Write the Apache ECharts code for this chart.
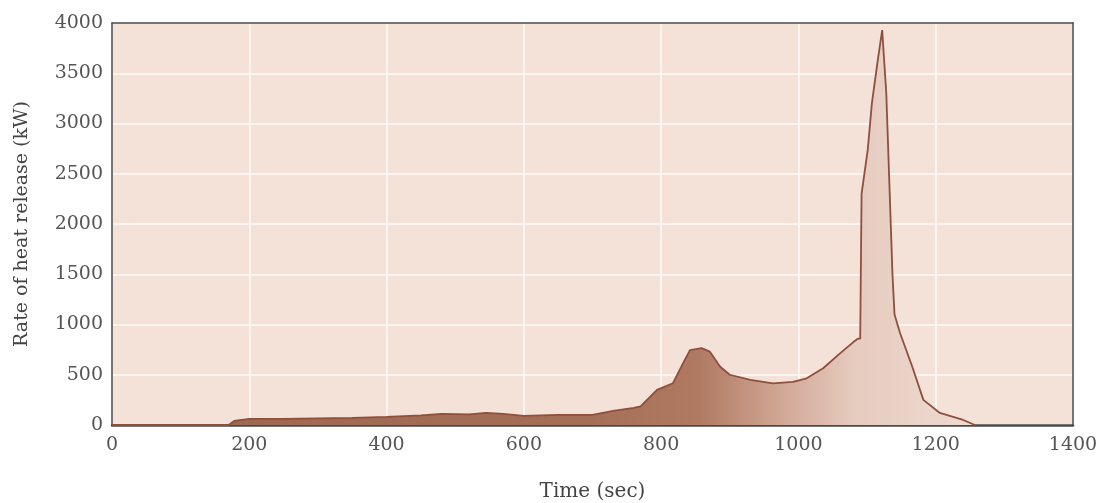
<!DOCTYPE html>
<html><head><meta charset="utf-8">
<script src="https://cdn.jsdelivr.net/npm/echarts@6/dist/echarts.min.js"></script>
<style>html,body{margin:0;padding:0;background:#fff}#c{width:1107px;height:503px}</style>
</head><body><div id="c"></div>
<script>
const times = [0,60,120,170,178,200,250,300,350,400,450,480,520,545,570,600,650,700,730,760,770,794,817,832,842,859,871,886,900,930,963,992,1012,1036,1061,1080,1087,1090,1092,1101,1107,1115,1122,1128,1133,1137,1140,1148,1166,1182,1206,1240,1257];
const heat  = [0,0,0,0,40,60,60,65,70,80,95,110,105,120,110,90,100,100,140,170,185,350,415,615,745,765,730,580,500,450,415,430,465,565,715,825,860,860,2300,2740,3200,3600,3930,3300,2300,1500,1100,915,577,250,120,50,0];
const xTicks = [0,200,400,600,800,1000,1200,1400];
const yTicks = [0,500,1000,1500,2000,2500,3000,3500,4000];

const chart = echarts.init(document.getElementById('c'));
const serif = '"DejaVu Serif","Liberation Serif",serif';
const frame = {show:true,onZero:false,lineStyle:{color:'#4a4a4a',width:1.5}};
chart.setOption({
  animation:false,
  grid:{left:112,top:23,right:34,bottom:78,show:true,backgroundColor:'#f4e2d8',borderWidth:0,outerBoundsMode:'none',containLabel:false},
  xAxis:[{type:'value',min:xTicks[0],max:xTicks[xTicks.length-1],interval:200,
    name:'Time (sec)',nameLocation:'middle',nameGap:57,
    nameTextStyle:{fontFamily:serif,fontSize:20,color:'#444'},
    axisLine:{show:true,onZero:false,lineStyle:{color:'#4a4a4a',width:2.5}},axisTick:{show:false},
    axisLabel:{fontFamily:serif,fontSize:19,color:'#555',margin:11,formatter:v=>String(v)},
    splitLine:{show:true,lineStyle:{color:'#fffaf6',width:1.5}}},
    {type:'value',position:'top',min:xTicks[0],max:xTicks[xTicks.length-1],
    axisLine:frame,axisTick:{show:false},axisLabel:{show:false},splitLine:{show:false}}],
  yAxis:[{type:'value',min:yTicks[0],max:yTicks[yTicks.length-1],interval:500,
    name:'Rate of heat release (kW)',nameLocation:'middle',nameGap:80,
    nameTextStyle:{fontFamily:serif,fontSize:19,color:'#444'},
    axisLine:frame,axisTick:{show:false},
    axisLabel:{fontFamily:serif,fontSize:19,color:'#555',margin:9,formatter:v=>String(v)},
    splitLine:{show:true,lineStyle:{color:'#fffaf6',width:1.5}}},
    {type:'value',position:'right',min:yTicks[0],max:yTicks[yTicks.length-1],
    axisLine:frame,axisTick:{show:false},axisLabel:{show:false},splitLine:{show:false}}],
  series:[{type:'line',data:times.map((t,i)=>[t,heat[i]]),symbol:'none',smooth:false,
    lineStyle:{color:'#8e4f3c',width:1.8},
    areaStyle:{opacity:1,color:new echarts.graphic.LinearGradient(0,0,1,0,[
      {offset:0,color:'#9c6650'},
      {offset:0.55,color:'#a56e57'},
      {offset:0.68,color:'#b07a62'},
      {offset:0.78,color:'#d2a997'},
      {offset:0.86,color:'#e6cbbf'},
      {offset:1,color:'#efdbd1'}])}}]
});
</script></body></html>
